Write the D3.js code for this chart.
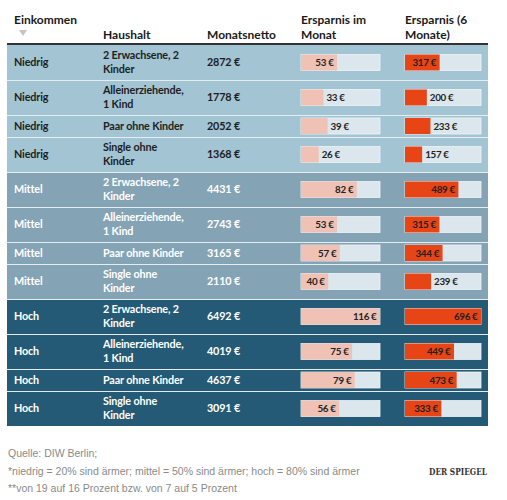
<!DOCTYPE html>
<html><head><meta charset="utf-8">
<script src="https://cdn.jsdelivr.net/npm/d3@7"></script>
<style>
html,body{margin:0;padding:0;background:#fff;}
svg text{font-family:Lato,"Liberation Sans",Arial,sans-serif;}
</style></head>
<body><div id="chart"></div>
<script>
const headers = ["Einkommen", "Haushalt", "Monatsnetto", "Ersparnis im\nMonat", "Ersparnis (6\nMonate)"];
const incomeLevels = ["Niedrig","Niedrig","Niedrig","Niedrig","Mittel","Mittel","Mittel","Mittel","Hoch","Hoch","Hoch","Hoch"];
const householdLines = [["2 Erwachsene, 2","Kinder"],["Alleinerziehende,","1 Kind"],["Paar ohne Kinder"],["Single ohne","Kinder"]];
const households = d3.range(12).map(i => householdLines[i % 4]);
const netto = [2872,1778,2052,1368,4431,2743,3165,2110,6492,4019,4637,3091];
const savingsMonth = [53,33,39,26,82,53,57,40,116,75,79,56];
const savingsSix = [317,200,233,157,489,315,344,239,696,449,473,333];
const footnotes = ["Quelle: DIW Berlin;","*niedrig = 20% sind ärmer; mittel = 50% sind ärmer; hoch = 80% sind ärmer","**von 19 auf 16 Prozent bzw. von 7 auf 5 Prozent"];
const brand = "DER SPIEGEL";

const W = 507, H = 500;
const tableX0 = 7, tableX1 = 488, tableTop = 45;
const colX = [14, 103, 207, 301, 405];
const barW1 = 79, barW2 = 76, barH = 16;
const rowBg = {Niedrig:"#a3c4d2", Mittel:"#84a4b5", Hoch:"#245a75"};
const rowFg = {Niedrig:"#1e1e1e", Mittel:"#ffffff", Hoch:"#ffffff"};

const svg = d3.select("#chart").append("svg").attr("width", W).attr("height", H);

const rows = incomeLevels.map((lvl, i) => ({
  lvl, lines: households[i], netto: netto[i], m: savingsMonth[i], s: savingsSix[i],
  h: households[i].length > 1 ? 35 : 22
}));
let yy = tableTop;
rows.forEach(r => { r.y = yy; yy += r.h; });

const x1 = d3.scaleLinear().domain([0, d3.max(savingsMonth)]).range([0, barW1]);
const x2 = d3.scaleLinear().domain([0, d3.max(savingsSix)]).range([0, barW2]);

// header
const hg = svg.append("g");
headers.forEach((h, i) => {
  const lines = h.split("\n");
  const t = hg.append("text").attr("x", colX[i]).attr("font-size", 12).attr("font-weight", "bold").attr("fill", "#1a1a1a");
  if (i === 0) {
    t.attr("y", 24).text(h);
  } else if (lines.length === 1) {
    t.attr("y", 38.5).text(h);
  } else {
    lines.forEach((l, k) => t.append("tspan").attr("x", colX[i]).attr("y", 24 + k * 14.5).text(l));
  }
});
hg.append("path").attr("d", "M19,30 L27,30 L23,36 Z").attr("fill", "#c4c4c4");

// rows
const rg = svg.append("g").selectAll("g").data(rows).join("g").attr("transform", d => `translate(0,${d.y})`);
rg.append("rect").attr("x", tableX0).attr("width", tableX1 - tableX0).attr("height", d => d.h).attr("fill", d => rowBg[d.lvl]);
rg.filter((d, i) => i > 0).append("line").attr("x1", tableX0).attr("x2", tableX1).attr("y1", 0.5).attr("y2", 0.5)
  .attr("stroke", "#e4edf1").attr("stroke-width", 1.2);

const fs = 10.8, ls = -0.15;
rg.append("text").attr("x", colX[0]).attr("y", d => d.h / 2).attr("dy", "0.36em").attr("font-size", fs).attr("font-weight", "bold")
  .attr("letter-spacing", ls).attr("fill", d => rowFg[d.lvl]).text(d => d.lvl);
rg.each(function(d) {
  const t = d3.select(this).append("text").attr("font-size", fs).attr("font-weight", "bold").attr("letter-spacing", ls).attr("fill", rowFg[d.lvl]);
  const n = d.lines.length;
  d.lines.forEach((l, k) => t.append("tspan").attr("x", colX[1]).attr("y", d.h / 2 + (k - (n - 1) / 2) * 14).attr("dy", "0.36em").text(l));
});
rg.append("text").attr("x", colX[2]).attr("y", d => d.h / 2).attr("dy", "0.36em").attr("font-size", fs).attr("font-weight", "bold")
  .attr("letter-spacing", ls).attr("fill", d => rowFg[d.lvl]).text(d => d.netto + " €");

// label fit: padding calibrated so a 2-digit label needs ~27px of bar
const probe = svg.append("text").attr("font-size", 9.8).attr("font-weight", "bold").attr("letter-spacing", -0.3).text("00 €");
const pad = 26.9 - probe.node().getComputedTextLength();
probe.remove();

function drawBar(sel, x0, w, scale, key, color) {
  sel.append("rect").attr("x", x0).attr("y", d => d.h / 2 - barH / 2).attr("width", w).attr("height", barH)
    .attr("fill", "#dbe7ed").attr("stroke", "#eef4f7").attr("stroke-width", 0.8);
  sel.append("rect").attr("x", x0).attr("y", d => d.h / 2 - barH / 2).attr("width", d => scale(d[key])).attr("height", barH)
    .attr("fill", color);
  sel.each(function(d) {
    const g = d3.select(this);
    const bw = scale(d[key]);
    const t = g.append("text").attr("y", d.h / 2).attr("dy", "0.36em").attr("font-size", 9.8).attr("font-weight", "bold")
      .attr("fill", "#222").attr("letter-spacing", -0.3).text(d[key] + " €");
    const tw = t.node().getComputedTextLength();
    if (tw + pad <= bw) t.attr("x", x0 + bw - 3.5).attr("text-anchor", "end");
    else t.attr("x", x0 + bw + 3).attr("text-anchor", "start");
  });
}
drawBar(rg, colX[3], barW1, x1, "m", "#f0c2b5");
drawBar(rg, colX[4], barW2, x2, "s", "#e74516");

// header rule
svg.append("line").attr("x1", tableX0).attr("x2", tableX1).attr("y1", 44).attr("y2", 44).attr("stroke", "#333").attr("stroke-width", 2);

// footer
const fg = svg.append("g");
footnotes.forEach((f, i) => fg.append("text").attr("x", 8).attr("y", 457 + i * 17.5).attr("font-size", 10.5)
  .style("font-family", '"Liberation Sans",Arial,sans-serif').attr("fill", "#8a8a8a").text(f));
fg.append("text").attr("x", 429).attr("y", 475).attr("font-size", 9).attr("font-weight", "bold")
  .attr("textLength", 58).attr("lengthAdjust", "spacingAndGlyphs")
  .style("font-family", '"DejaVu Serif",serif').attr("fill", "#333").text(brand);
</script></body></html>
